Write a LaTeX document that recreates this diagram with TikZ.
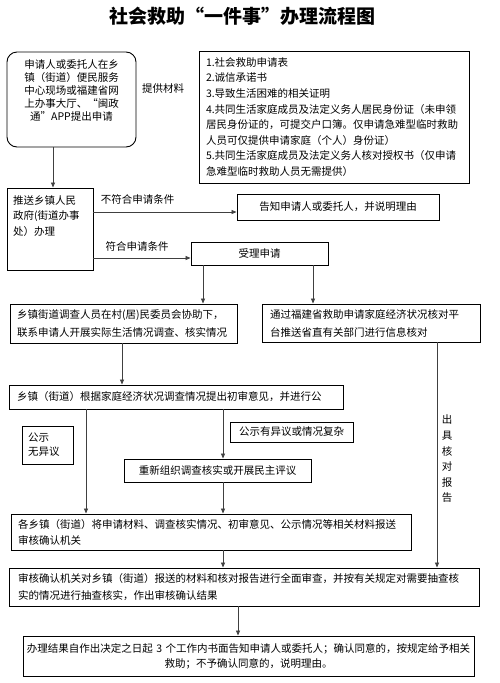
\documentclass[tikz,border=0pt]{standalone}
\usepackage{fontspec}
\setmainfont{Noto Sans CJK SC}
\usetikzlibrary{arrows.meta}
\newcommand\fs[1]{\fontsize{10.5}{#1}\selectfont}
\begin{document}
\begin{tikzpicture}[x=1pt,y=-1pt,
  box/.style={draw=black, line width=0.9pt, inner sep=0pt, font=\fs{16}},
  txt/.style={inner sep=0pt, font=\fs{16}},
  arr/.style={draw=black!75, line width=0.8pt, -{Triangle[length=5pt,width=4pt]}}]
\useasboundingbox[fill=white] (0,0) rectangle (500,683);

\node[font=\bfseries\fontsize{19}{19}\selectfont] (title) at (242,16) {社会救助“一件事”办理流程图};

\node[box, rounded corners=10pt, minimum width=129pt, minimum height=95pt] (apply) at (71.5,99.5) {};
\node[txt, align=center, font=\fs{13}] (applyt) at (71.5,91) {申请人或委托人在乡\\镇（街道）便民服务\\中心现场或福建省网\\上办事大厅、“闽政\\通”APP提出申请};
\node[txt] (prov) at (163,89) {提供材料};

\node[box, minimum width=270pt, minimum height=132pt, text width=256pt, align=left, font=\fs{15.6}] (mat) at (334,117)
 {1.社会救助申请表\\2.诚信承诺书\\3.导致生活困难的相关证明\\4.共同生活家庭成员及法定义务人居民身份证（未申领\\居民身份证的，可提交户口簿。仅申请急难型临时救助\\人员可仅提供申请家庭（个人）身份证）\\5.共同生活家庭成员及法定义务人核对授权书（仅申请\\急难型临时救助人员无需提供）};

\node[box, minimum width=86pt, minimum height=82pt] (push) at (50,229) {};
\node[txt, anchor=north west, align=left, font=\fs{15.5}] (pusht) at (13,195) {推送乡镇人民\\政府(街道办事\\处）办理};
\draw[arr] (53,0 |- apply.south) -- (53,0 |- push.north);

\node[box, minimum width=202pt, minimum height=26pt] (notify) at (338,207) {告知申请人或委托人，并说明理由};
\node[txt] (nolab) at (137.5,199) {不符合申请条件};
\draw[arr] (push.east |- 0,212) -- (notify.west |- 0,212);

\node[box, minimum width=137pt, minimum height=23pt] (accept) at (259.5,253.5) {受理申请};
\node[txt] (yeslab) at (137,246) {符合申请条件};
\draw[arr] (push.east |- 0,258) -- (accept.west |- 0,258);

\node[box, minimum width=227pt, minimum height=39pt, text width=213pt, align=left, font=\fs{18}] (survey) at (123.5,323.5)
 {乡镇街道调查人员在村(居)民委员会协助下，\\联系申请人开展实际生活情况调查、核实情况};
\node[box, minimum width=218pt, minimum height=38pt, text width=202pt, align=left, font=\fs{18}] (plat) at (371,323)
 {通过福建省救助申请家庭经济状况核对平\\台推送省直有关部门进行信息核对};
\draw[arr] (203,0 |- accept.south) -- (203,0 |- survey.north);
\draw[arr] (313,0 |- accept.south) -- (313,0 |- plat.north);

\node[box, minimum width=334pt, minimum height=24pt, text width=318pt, align=left] (opin) at (176,397)
 {乡镇（街道）根据家庭经济状况调查情况提出初审意见，并进行公};
\draw[arr] (122,0 |- survey.south) -- (122,0 |- opin.north);

\node[box, minimum width=51pt, minimum height=38pt, text width=39pt, align=left, font=\fs{14}] (noobj) at (47.5,445) {公示\\无异议};
\node[box, minimum width=123pt, minimum height=20pt] (obj) at (291.5,432) {公示有异议或情况复杂};
\node[box, minimum width=187pt, minimum height=23pt] (rechk) at (217.5,470.5) {重新组织调查核实或开展民主评议};

\node[box, minimum width=400pt, minimum height=36pt, text width=386pt, align=left, font=\fs{16}] (submit) at (211,532)
 {各乡镇（街道）将申请材料、调查核实情况、初审意见、公示情况等相关材料报送\\审核确认机关};
\node[box, minimum width=470pt, minimum height=38pt, text width=452pt, align=left, font=\fs{17}] (review) at (244,587)
 {审核确认机关对乡镇（街道）报送的材料和核对报告进行全面审查，并按有关规定对需要抽查核\\实的情况进行抽查核实，作出审核确认结果};
\node[box, minimum width=451pt, minimum height=40pt, text width=445pt, align=center, font=\fs{15}] (result) at (248.5,656)
 {办理结果自作出决定之日起~3~个工作内书面告知申请人或委托人；确认同意的，按规定给予相关\\救助；不予确认同意的，说明理由。};

\draw[arr] (223,0 |- opin.south) -- (223,0 |- rechk.north);
\draw[arr] (86,0 |- opin.south) -- (86,0 |- submit.north);
\draw[arr] (223,0 |- rechk.south) -- (223,0 |- submit.north);
\draw[arr] (223,0 |- submit.south) -- (223,0 |- review.north);
\draw[arr] (437,0 |- plat.south) -- (437,0 |- review.north);
\node[txt, align=center, font=\fs{15.6}] (rep) at (447,459) {出\\具\\核\\对\\报\\告};
\draw[arr] (238,0 |- review.south) -- (238,0 |- result.north);
\end{tikzpicture}
\end{document}
